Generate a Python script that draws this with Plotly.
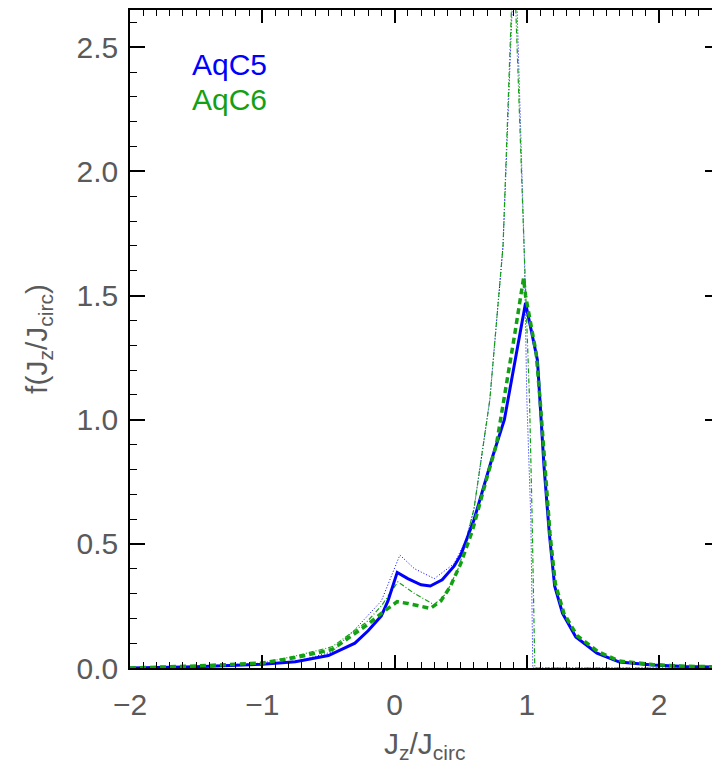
import plotly.graph_objects as go

# AqC5 (thick solid, blue)
x_c5 = [-2.0, -1.5, -1.0, -0.75, -0.5, -0.3, -0.2, -0.1, -0.05, 0.02, 0.1, 0.2, 0.27, 0.36, 0.45,
        0.5, 0.6, 0.69, 0.74, 0.83, 0.99, 1.08, 1.10, 1.13, 1.17, 1.21, 1.27, 1.37, 1.53, 1.70,
        1.95, 2.2, 2.5]
y_c5 = [0.0, 0.005, 0.015, 0.025, 0.05, 0.10, 0.15, 0.21, 0.27, 0.385, 0.36, 0.335, 0.33, 0.355, 0.41,
        0.455, 0.596, 0.757, 0.85, 1.0, 1.47, 1.24, 1.08, 0.81, 0.54, 0.33, 0.22, 0.125, 0.06, 0.024,
        0.012, 0.006, 0.003]

# AqC6 (thick dashed, green)
x_c6 = [-2.0, -1.5, -1.0, -0.72, -0.47, -0.265, -0.21, -0.1, 0.02, 0.1, 0.27, 0.35, 0.42, 0.5,
        0.59, 0.7, 0.77, 0.91, 0.975, 0.99, 1.07, 1.10, 1.135, 1.175, 1.215, 1.28, 1.38, 1.54,
        1.7, 1.95, 2.2, 2.5]
y_c6 = [0.0, 0.008, 0.02, 0.045, 0.075, 0.15, 0.173, 0.22, 0.267, 0.26, 0.24, 0.27, 0.327, 0.42,
        0.556, 0.77, 0.9, 1.35, 1.57, 1.50, 1.27, 1.08, 0.81, 0.54, 0.34, 0.22, 0.13, 0.065,
        0.028, 0.014, 0.007, 0.004]

# AqC5 thin (dotted, blue)
x_c5t = [-2.0, -1.5, -1.0, -0.72, -0.47, -0.265, -0.1, 0.04, 0.15, 0.3, 0.45, 0.54, 0.6, 0.72,
         0.82, 0.91, 0.98, 1.0, 1.03, 1.045, 1.1, 2.5]
y_c5t = [0.0, 0.004, 0.015, 0.03, 0.065, 0.175, 0.27, 0.455, 0.40, 0.36, 0.42, 0.515, 0.64, 1.08,
         1.70, 2.95, 1.68, 1.08, 0.6, 0.0, 0.0, 0.0]

# AqC6 thin (dash-dot, green)
x_c6t = [-2.0, -1.5, -1.0, -0.72, -0.47, -0.21, -0.1, 0.025, 0.15, 0.3, 0.39, 0.49, 0.6, 0.72,
         0.82, 0.90, 0.98, 1.02, 1.04, 1.06, 1.1, 2.5]
y_c6t = [0.0, 0.006, 0.02, 0.052, 0.086, 0.186, 0.25, 0.347, 0.30, 0.255, 0.30, 0.41, 0.64, 1.08,
         1.70, 2.9, 1.68, 1.08, 0.6, 0.0, 0.0, 0.0]

series_names = ["AqC5", "AqC6"]

BLUE = "#0000ff"
GREEN = "#13a013"
FONT = "Liberation Sans"
TXT = "#5a5a5a"

fig = go.Figure()
fig.add_trace(go.Scatter(x=x_c5t, y=y_c5t, mode="lines",
                         line=dict(color=BLUE, width=1, dash="1px,2px")))
fig.add_trace(go.Scatter(x=x_c6t, y=y_c6t, mode="lines",
                         line=dict(color=GREEN, width=1.2, dash="5px,2px,1px,2px")))
fig.add_trace(go.Scatter(x=x_c5, y=y_c5, mode="lines",
                         line=dict(color=BLUE, width=3)))
fig.add_trace(go.Scatter(x=x_c6, y=y_c6, mode="lines",
                         line=dict(color=GREEN, width=3.5, dash="6px,4px")))

axis_common = dict(showline=True, linecolor="black", linewidth=1.5, mirror="allticks",
                   ticks="inside", tickcolor="black", showgrid=False, zeroline=False,
                   automargin=False,
                   tickfont=dict(family=FONT, size=30, color=TXT))

# page body has an 8px default margin, so the figure is sized to fit the window
fig.update_layout(
    width=712, height=756,
    margin=dict(l=122, r=0, t=2, b=96, autoexpand=False),
    paper_bgcolor="white", plot_bgcolor="white",
    showlegend=False,
    xaxis=dict(range=[-2, 2.46], dtick=1, tick0=0, ticklen=13, tickwidth=1.5,
               minor=dict(dtick=0.1, ticks="inside", ticklen=6, tickcolor="black", tickwidth=1.2),
               ticklabelstandoff=9,
               **axis_common),
    yaxis=dict(range=[0, 2.65], dtick=0.5, tick0=0, tickformat=".1f", ticklen=15, tickwidth=1.5,
               minor=dict(dtick=0.1, ticks="inside", ticklen=7, tickcolor="black", tickwidth=1.2),
               ticklabelstandoff=4,
               title=dict(text="f(J<sub>z</sub>/J<sub>circ</sub>)", standoff=20,
                          font=dict(family=FONT, size=30, color=TXT)),
               **axis_common),
)
fig.add_annotation(x=0.5, y=0, xref="paper", yref="paper", yshift=-77,
                   text="J<sub>z</sub>/J<sub>circ</sub>", showarrow=False,
                   font=dict(family=FONT, size=30, color=TXT), xanchor="center", yanchor="middle")
fig.add_annotation(x=-1.55, y=2.43, xref="x", yref="y", text=series_names[0], showarrow=False,
                   font=dict(family=FONT, size=30, color=BLUE), xanchor="left", yanchor="middle")
fig.add_annotation(x=-1.55, y=2.29, xref="x", yref="y", text=series_names[1], showarrow=False,
                   font=dict(family=FONT, size=30, color=GREEN), xanchor="left", yanchor="middle")

fig.write_html("out.html")
